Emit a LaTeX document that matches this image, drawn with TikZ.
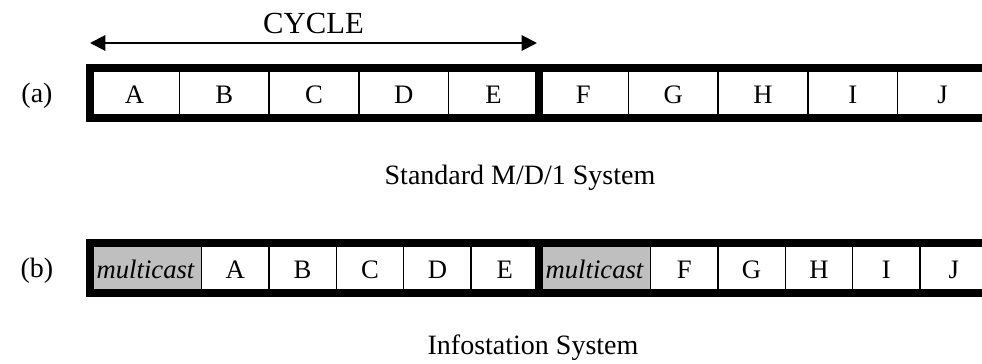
\documentclass[tikz,border=0pt]{standalone}
\usepackage{fontspec}
\setmainfont{Liberation Serif}
\usetikzlibrary{arrows.meta,positioning}

\tikzset{
  slot/.style={draw, line width=1.1pt, outer sep=0pt, inner sep=0pt,
    minimum height=37.5pt, text height=15pt, text depth=0pt,
    font=\fontsize{20}{24}\selectfont},
  slotA/.style={slot, minimum width=67.35pt},
  slotB/.style={slot, minimum width=50.55pt},
  mcast/.style={slot, minimum width=84pt, fill=black!25,
    font=\fontsize{20}{24}\selectfont\itshape},
  frame/.style={line width=6pt},
  caption/.style={anchor=base, font=\fontsize{21}{25}\selectfont}
}

\begin{document}
\begin{tikzpicture}[x=0.75pt,y=-0.75pt]
  \useasboundingbox (0,0) rectangle (982,364);
  \clip (0,0) rectangle (982,364);

  % cycle length
  \coordinate (cycL) at (90,43);
  \coordinate (cycR) at (537,43);
  \draw[line width=1.5pt, {Triangle[length=11.5pt,width=11.5pt]}-{Triangle[length=11.5pt,width=11.5pt]}]
    (cycL) -- (cycR);
  \node[anchor=base, font=\fontsize{23}{27}\selectfont] (cyc) at (313.5,33) {CYCLE};

  % (a) plain queue
  \node[caption] (la) at (37,102) {(a)};
  \node[slotA] (a1) at (134.4,93) {A};
  \foreach \l/\i/\j in {B/2/1,C/3/2,D/4/3,E/5/4,F/6/5,G/7/6,H/8/7,I/9/8,J/10/9}
    \node[slotA, right=0pt of a\j] (a\i) {\l};
  \draw[frame] (a1.north west) rectangle (a10.south east);
  \draw[frame] (a5.north east) -- (a5.south east);
  \node[caption] (ta) at (520,184) {Standard M/D/1 System};

  % (b) with multicast slots
  \node[caption] (lb) at (37,277) {(b)};
  \node[mcast] (b1) at (145.5,268) {multicast};
  \foreach \l/\i/\j in {A/2/1,B/3/2,C/4/3,D/5/4,E/6/5}
    \node[slotB, right=0pt of b\j] (b\i) {\l};
  \node[mcast, right=0pt of b6] (b7) {multicast};
  \foreach \l/\i/\j in {F/8/7,G/9/8,H/10/9,I/11/10,J/12/11}
    \node[slotB, right=0pt of b\j] (b\i) {\l};
  \draw[frame] (b1.north west) rectangle (b12.south east);
  \draw[frame] (b6.north east) -- (b6.south east);
  \node[caption] (tb) at (533,354) {Infostation System};
\end{tikzpicture}
\end{document}
